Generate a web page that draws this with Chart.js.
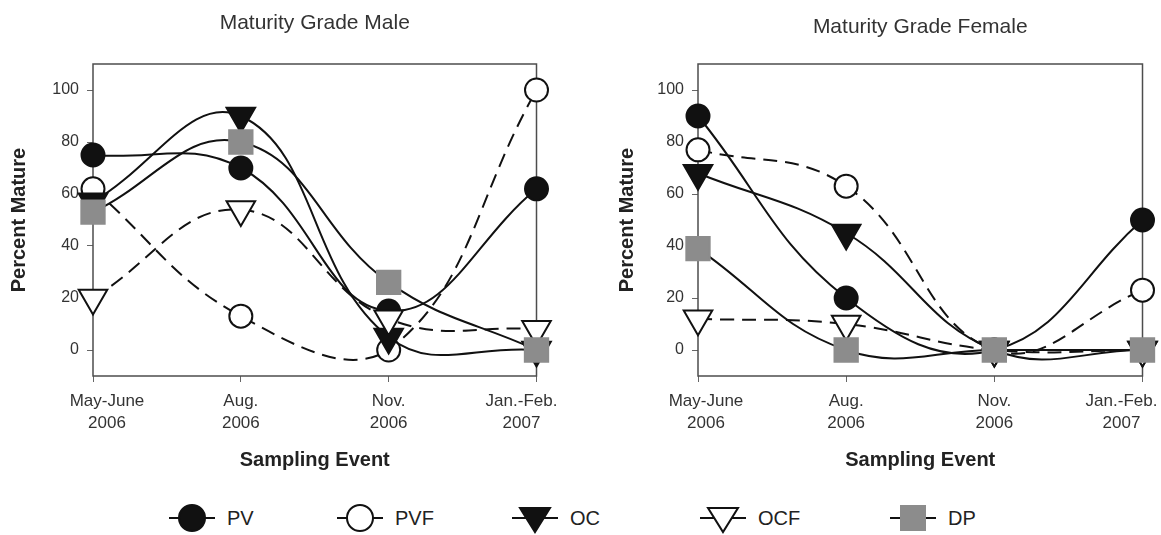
<!DOCTYPE html>
<html>
<head>
<meta charset="utf-8">
<script src="https://cdn.jsdelivr.net/npm/chart.js@4.4.1/dist/chart.umd.min.js"></script>
<style>
  body { margin: 0; background: #fff; width: 1161px; height: 535px; overflow: hidden; position: relative;
         font-family: "Liberation Sans", Arial, sans-serif; }
  #male { position: absolute; left: 0; top: 0; }
  #female { position: absolute; left: 600px; top: 0; }
  .leg { position: absolute; top: 501px; height: 34px; display: flex; align-items: center; }
  .leg span { font-size: 20px; color: #222; margin-left: 10px; }
</style>
</head>
<body>
<canvas id="male" width="580" height="480"></canvas>
<canvas id="female" width="561" height="480"></canvas>
<div id="legend"></div>
<script>
// sampling events (two-line tick labels)
const events = [["May-June", "2006"], ["Aug.", "2006"], ["Nov.", "2006"], ["Jan.-Feb.", "2007"]];
const yTicks = [0, 20, 40, 60, 80, 100];
const seriesNames = ["PV", "PVF", "OC", "OCF", "DP"];

// percent mature, males
const malePV = [75, 70, 15, 62];
const malePVF = [62, 13, 0, 100];
const maleOC = [57, 90, 5, 0];
const maleOCF = [20, 54, 12, 8];
const maleDP = [53, 80, 26, 0];

// percent mature, females
const femalePV = [90, 20, 0, 50];
const femalePVF = [77, 63, 0, 23];
const femaleOC = [68, 45, 0, 0];
const femaleOCF = [12, 10, 0, 0];
const femaleDP = [39, 0, 0, 0];

const INK = "#111";
const DASH = [14, 8];
const seriesStyle = {
  PV: { dash: [], shape: "circle", fill: INK, line: INK, r: 11.5 },
  PVF: { dash: DASH, shape: "circle", fill: "#fff", line: INK, r: 11.5 },
  OC: { dash: [], shape: "triangle", fill: INK, line: INK, r: 16.5 },
  OCF: { dash: DASH, shape: "triangle", fill: "#fff", line: INK, r: 16.5 },
  DP: { dash: [], shape: "rect", fill: "#8c8c8c", line: "#8c8c8c", r: 16.5 },
};

function makeDatasets(values) {
  return seriesNames.map((name, i) => {
    const s = seriesStyle[name];
    return {
      label: name,
      data: values[i],
      order: seriesNames.length - i, // later series drawn over earlier ones
      borderColor: INK,
      borderWidth: 2,
      borderDash: s.dash,
      tension: 0.42,
      clip: false,
      pointStyle: s.shape,
      pointRotation: s.shape === "triangle" ? 180 : 0,
      pointRadius: s.r,
      pointBackgroundColor: s.fill,
      pointBorderColor: s.line,
      pointBorderWidth: 2,
    };
  });
}

// full box round the plot area
const framePlugin = {
  id: "frame",
  beforeDatasetsDraw(chart) {
    const { ctx, chartArea: a } = chart;
    ctx.save();
    ctx.strokeStyle = "#4d4d4d";
    ctx.lineWidth = 1.5;
    ctx.strokeRect(a.left, a.top, a.right - a.left, a.bottom - a.top);
    ctx.restore();
  },
};

// first / last x labels sit inside the frame in the original
const edgeLabels = {
  id: "edgeLabels",
  beforeDraw(chart, args, opts) {
    const items = chart.scales.x.getLabelItems();
    if (!items.length || items._nudged) return;
    items[0].options.translation[0] += opts.first;
    items[items.length - 1].options.translation[0] += opts.last;
    items._nudged = true;
  },
};

function makeChart(id, title, titleTop, values, yWidth, padRight, nudge) {
  return new Chart(document.getElementById(id), {
    type: "line",
    data: { labels: events, datasets: makeDatasets(values) },
    plugins: [framePlugin, edgeLabels],
    options: {
      responsive: false,
      animation: false,
      events: [],
      layout: { padding: { left: 0, right: padRight, top: 0, bottom: 0 } },
      plugins: {
        legend: { display: false },
        tooltip: { enabled: false },
        edgeLabels: nudge,
        title: {
          display: true,
          text: title,
          fullSize: false,
          color: "#333",
          font: { size: 21, weight: "normal" },
          padding: { top: titleTop, bottom: 64 - titleTop - 25.2 },
        },
      },
      scales: {
        x: {
          offset: false,
          afterFit: (s) => { s.height = 104; s.paddingLeft = 0; s.paddingRight = 0; },
          grid: { drawOnChartArea: false, tickLength: 6, color: "#666" },
          border: { display: false },
          ticks: { padding: 9, color: "#333", maxRotation: 0, autoSkip: false,
                   font: { size: 17, lineHeight: 1.25 } },
          title: { display: true, text: "Sampling Event", color: "#222",
                   font: { size: 20, weight: "bold" }, padding: { top: 0, bottom: 8 } },
        },
        y: {
          min: -10,
          max: 110,
          afterBuildTicks: (s) => { s.ticks = yTicks.map((v) => ({ value: v })); },
          afterFit: (s) => { s.width = yWidth; },
          grid: { drawOnChartArea: false, tickLength: 6, color: "#666" },
          border: { display: false },
          ticks: { padding: 8, color: "#333", font: { size: 16 } },
          title: { display: true, text: "Percent Mature", color: "#222",
                   font: { size: 20, weight: "bold" }, padding: { top: yWidth === 93 ? 7.5 : 15, bottom: 0 } },
        },
      },
    },
  });
}

Chart.defaults.font.family = '"Liberation Sans", Arial, sans-serif';

makeChart("male", "Maturity Grade Male", 10.4,
  [malePV, malePVF, maleOC, maleOCF, maleDP], 93, 43.5, { first: 14, last: -15 });
makeChart("female", "Maturity Grade Female", 14.4,
  [femalePV, femalePVF, femaleOC, femaleOCF, femaleDP], 98, 18, { first: 8, last: -21 });

// legend: a short line through each marker
const legendX = [192, 360, 535, 723, 913];
function markerSvg(s) {
  let m;
  if (s.shape === "circle") m = `<circle cx="25" cy="17" r="13" fill="${s.fill}" stroke="${INK}" stroke-width="2"/>`;
  else if (s.shape === "triangle") m = `<polygon points="10,7 40,7 25,31" fill="${s.fill}" stroke="${INK}" stroke-width="2"/>`;
  else m = `<rect x="12" y="4" width="26" height="26" fill="${s.fill}"/>`;
  return `<svg width="50" height="34"><line x1="2" y1="17" x2="48" y2="17" stroke="${INK}" stroke-width="2"/>${m}</svg>`;
}
document.getElementById("legend").innerHTML = seriesNames.map((name, i) =>
  `<div class="leg" style="left:${legendX[i] - 25}px">${markerSvg(seriesStyle[name])}<span>${name}</span></div>`
).join("");
</script>
</body>
</html>
